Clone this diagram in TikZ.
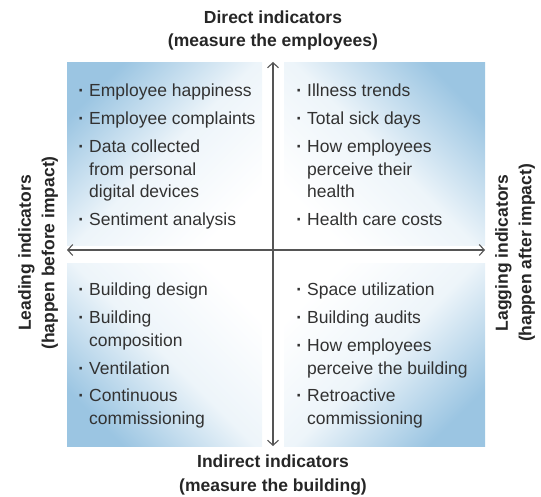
\documentclass[tikz,border=0pt]{standalone}
\usepackage{fontspec}
\setmainfont{Liberation Sans}
\usetikzlibrary{arrows.meta}
\definecolor{qblue}{RGB}{155,197,226}
\definecolor{txt}{RGB}{50,50,50}
\definecolor{axisgray}{RGB}{85,85,85}
\tikzset{
  itemtext/.style={anchor=north west, align=left, inner sep=0pt, text=txt,
    font=\fontsize{17.5}{22.4}\selectfont},
  ttl/.style={align=center, inner sep=0pt, text=black!85,
    font=\bfseries\fontsize{17.5}{23.5}\selectfont},
  axisline/.style={draw=axisgray, line width=1.1pt,
    {Straight Barb[length=5pt,width=11pt]}-{Straight Barb[length=5pt,width=11pt]}},
  quad/.style={shading=axis, top color=qblue, bottom color=white, middle color=qblue!18},
}
\newcommand{\bul}{\llap{{\bfseries ·}\hspace{5pt}}}
\begin{document}
\begin{tikzpicture}[x=1pt,y=-1pt]
\useasboundingbox (0,0) rectangle (541,497);
% quadrants
\shade[quad, shading angle=45]  (67,63)    rectangle (262,245.5);
\shade[quad, shading angle=-45] (284,63)   rectangle (485,245.5);
\shade[quad, shading angle=135] (67,263.5) rectangle (262,446);
\shade[quad, shading angle=-135](284,263.5) rectangle (485,446);
% axes
\coordinate (vt) at (273,62);
\coordinate (vb) at (273,446);
\coordinate (hl) at (67,250);
\coordinate (hr) at (485,250);
\draw[axisline] (vb) -- (vt);
\draw[axisline] (hl) -- (hr);
% titles
\node[ttl] (top) at (273,30.5) {Direct indicators\\(measure the employees)};
\node[ttl] (bot) at (273,475) {Indirect indicators\\(measure the building)};
\node[ttl, rotate=90] (lft) at (38,253) {Leading indicators\\(happen before impact)};
\node[ttl, rotate=90] (rgt) at (515,253) {Lagging indicators\\(happen after impact)};
% items
\node[itemtext] (tl) at (89,84) {\bul Employee happiness\\[5.5pt]
\bul Employee complaints\\[5.5pt]
\bul Data collected\\from personal\\digital devices\\[5.5pt]
\bul Sentiment analysis};
\node[itemtext] (tr) at (307,84) {\bul Illness trends\\[5.5pt]
\bul Total sick days\\[5.5pt]
\bul How employees\\perceive their\\health\\[5.5pt]
\bul Health care costs};
\node[itemtext] (bl) at (89,283) {\bul Building design\\[5.5pt]
\bul Building\\composition\\[5.5pt]
\bul Ventilation\\[5.5pt]
\bul Continuous\\commissioning};
\node[itemtext] (br) at (307,283) {\bul Space utilization\\[5.5pt]
\bul Building audits\\[5.5pt]
\bul How employees\\perceive the building\\[5.5pt]
\bul Retroactive\\commissioning};
\end{tikzpicture}
\end{document}
